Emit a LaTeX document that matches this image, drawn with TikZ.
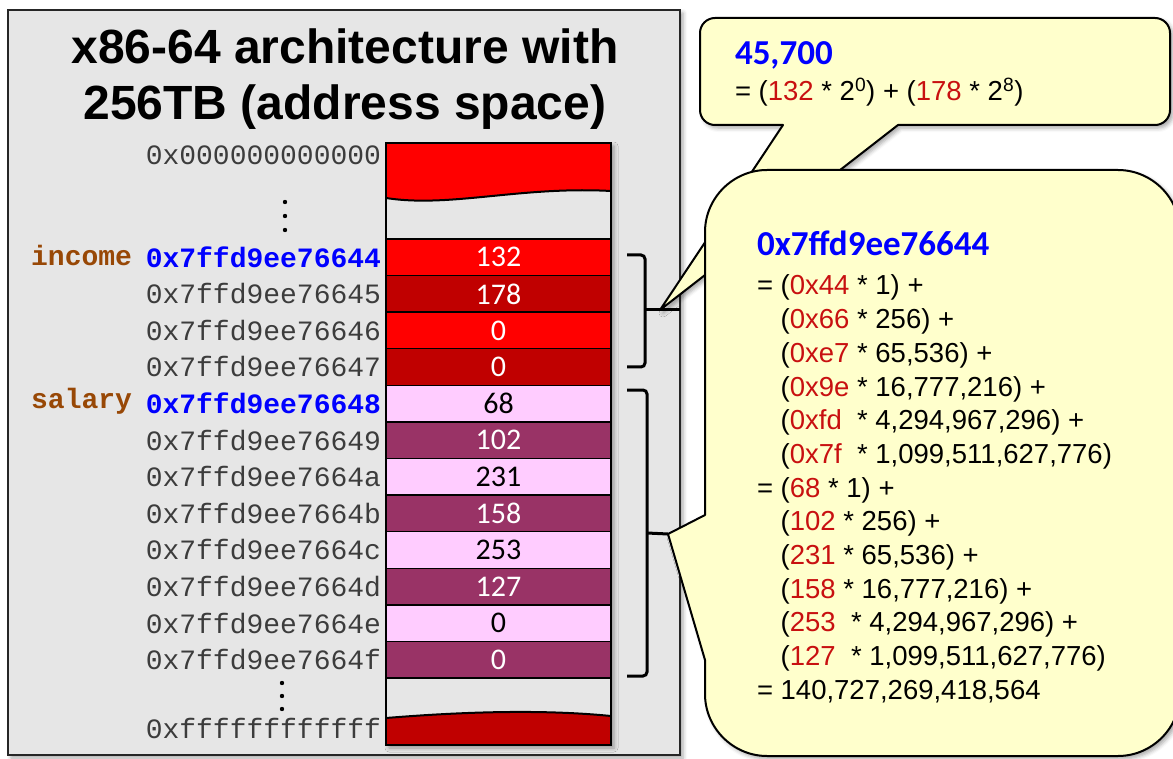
\documentclass[tikz,border=0pt]{standalone}
\usepackage{fontspec}
\setmainfont{Liberation Sans}
\setmonofont{Liberation Mono}
\newfontfamily\calfont{Carlito}
\usetikzlibrary{shadows.blur}

\definecolor{panelgray}{RGB}{230,230,230}
\definecolor{hotred}{RGB}{255,0,0}
\definecolor{darkred}{RGB}{192,0,0}
\definecolor{lightpink}{RGB}{255,204,255}
\definecolor{plum}{RGB}{153,51,102}
\definecolor{notebg}{RGB}{255,255,204}
\definecolor{varbrown}{RGB}{152,72,6}
\definecolor{numred}{RGB}{200,16,16}
\definecolor{addrblue}{RGB}{0,0,255}
\definecolor{addrgray}{RGB}{60,60,60}

\newcommand{\nr}[1]{\textcolor{numred}{#1}}
\newcommand{\ind}{\phantom{= }}

\begin{document}
\begin{tikzpicture}[x=1pt,y=-1pt,
  every node/.style={inner sep=0pt, outer sep=0pt},
  softshadow/.style={blur shadow={shadow xshift=3pt, shadow yshift=-3pt,
      shadow blur radius=4pt, shadow opacity=35}},
  panelbox/.style={fill=panelgray, draw=black!85, line width=2pt, softshadow},
  cellline/.style={draw=black, line width=1.5pt},
  cell/.style={cellline, minimum width=225pt, minimum height=36.58pt,
      font=\calfont\fontsize{30}{30}\selectfont},
  waveline/.style={draw=black, line width=2pt},
  addr/.style={anchor=east, text=addrgray, font=\ttfamily\fontsize{28}{28}\selectfont},
  addrkey/.style={anchor=east, text=addrblue, font=\ttfamily\bfseries\fontsize{28}{28}\selectfont},
  varname/.style={anchor=east, text=varbrown, font=\ttfamily\bfseries\fontsize{28}{28}\selectfont},
  vdot/.style={fill=black},
  brace/.style={draw=black, line width=3pt, rounded corners=4pt},
  tick/.style={draw=black, line width=3pt},
  note/.style={fill=notebg, draw=black, line width=2pt, line join=round, softshadow},
  notehead/.style={anchor=base west, text=addrblue, font=\calfont\bfseries\fontsize{35}{35}\selectfont},
  noteline/.style={anchor=base west, font=\fontsize{27.5}{33}\selectfont},
  title/.style={anchor=base, font=\bfseries\fontsize{48}{48}\selectfont}
]
\useasboundingbox (0,0) rectangle (1173,759);

% ---- address-space panel ----
\path[panelbox] (8,10) rectangle (680,755);
\node[title] (t1) at (345,64) {x86-64 architecture with};
\node[title] (t2) at (345,120) {256TB (address space)};

% ---- memory column ----
\path[softshadow, fill=panelgray] (386,143) rectangle (611,745);
% top of the address space
\path[fill=panelgray] (386,143) rectangle (611,239);
\fill[hotred] (386,143) -- (611,143) -- (611,191)
   .. controls (520,186) and (450,208) .. (386,198) -- cycle;
\draw[waveline] (386,198) .. controls (450,208) and (520,186) .. (611,191);
\draw[cellline] (386,143) rectangle (611,239);

% bytes of income and salary
\node[cell, fill=hotred,    text=white] (c1)  at (498.5,257.3) {132};
\node[cell, fill=darkred,   text=white] (c2)  at (498.5,293.9) {178};
\node[cell, fill=hotred,    text=white] (c3)  at (498.5,330.4) {0};
\node[cell, fill=darkred,   text=white] (c4)  at (498.5,367.0) {0};
\node[cell, fill=lightpink, text=black] (c5)  at (498.5,403.6) {68};
\node[cell, fill=plum,      text=white] (c6)  at (498.5,440.2) {102};
\node[cell, fill=lightpink, text=black] (c7)  at (498.5,476.8) {231};
\node[cell, fill=plum,      text=white] (c8)  at (498.5,513.4) {158};
\node[cell, fill=lightpink, text=black] (c9)  at (498.5,550.0) {253};
\node[cell, fill=plum,      text=white] (c10) at (498.5,586.6) {127};
\node[cell, fill=lightpink, text=black] (c11) at (498.5,623.1) {0};
\node[cell, fill=plum,      text=white] (c12) at (498.5,659.7) {0};

% end of the address space
\path[fill=panelgray] (386,678) rectangle (611,745);
\fill[darkred] (386,718) .. controls (460,712) and (540,709) .. (611,716)
   -- (611,745) -- (386,745) -- cycle;
\draw[waveline] (386,718) .. controls (460,712) and (540,709) .. (611,716);
\draw[cellline] (386,678) rectangle (611,745);

% ---- addresses ----
\node[addr] (a0) at (381,155) {0x000000000000};
\node[addrkey] (a1) at (381,257.3) {0x7ffd9ee76644};
\node[addr] (a2)  at (381,293.9) {0x7ffd9ee76645};
\node[addr] (a3)  at (381,330.4) {0x7ffd9ee76646};
\node[addr] (a4)  at (381,367.0) {0x7ffd9ee76647};
\node[addrkey] (a5) at (381,403.6) {0x7ffd9ee76648};
\node[addr] (a6)  at (381,440.2) {0x7ffd9ee76649};
\node[addr] (a7)  at (381,476.8) {0x7ffd9ee7664a};
\node[addr] (a8)  at (381,513.4) {0x7ffd9ee7664b};
\node[addr] (a9)  at (381,550.0) {0x7ffd9ee7664c};
\node[addr] (a10) at (381,586.6) {0x7ffd9ee7664d};
\node[addr] (a11) at (381,623.1) {0x7ffd9ee7664e};
\node[addr] (a12) at (381,659.7) {0x7ffd9ee7664f};
\node[addr] (a13) at (381,728) {0xffffffffffff};

\node[varname] (vin) at (132,255) {income};
\node[varname] (vsa) at (132,401) {salary};

% elided ranges
\foreach \yy in {202,216,230} \fill[vdot] (285,\yy) circle (2.2pt);
\foreach \yy in {683,696,709} \fill[vdot] (282,\yy) circle (2.2pt);

% ---- call-outs ----
\coordinate (tip1) at (660,310);
\coordinate (tip2) at (668,534);

\path[note] (715,18) -- (1155,18) .. controls (1163.3,18) and (1170,24.7) .. (1170,33)
   -- (1170,110) .. controls (1170,118.3) and (1163.3,125) .. (1155,125)
   -- (898,125) -- (tip1) -- (783,125)
   -- (715,125) .. controls (706.7,125) and (700,118.3) .. (700,110)
   -- (700,33) .. controls (700,24.7) and (706.7,18) .. (715,18) -- cycle;

\node[notehead] (h1) at (735,65) {45,700};
\node[noteline] (s1) at (735,101)
  {= (\nr{132} * 2\textsuperscript{0}) + (\nr{178} * 2\textsuperscript{8})};

\path[note] (705,515) -- (705,232) .. controls (705,198) and (733,170) .. (767,170)
   -- (1118,170) .. controls (1152,170) and (1180,198) .. (1180,232)
   -- (1180,694) .. controls (1180,728) and (1152,756) .. (1118,756)
   -- (767,756) .. controls (733,756) and (705,728) .. (705,694)
   -- (705,660) -- (tip2) -- cycle;

\node[notehead] (h2) at (757,256) {0x7ffd9ee76644};
\node[noteline] (l1)  at (757,295) {= (\nr{0x44} * 1) +};
\node[noteline] (l2)  at (757,328.7) {\ind(\nr{0x66} * 256) +};
\node[noteline] (l3)  at (757,362.3) {\ind(\nr{0xe7} * 65,536) +};
\node[noteline] (l4)  at (757,396.0) {\ind(\nr{0x9e} * 16,777,216) +};
\node[noteline] (l5)  at (757,429.7) {\ind(\nr{0xfd}\ \ * 4,294,967,296) +};
\node[noteline] (l6)  at (757,463.3) {\ind(\nr{0x7f}\ \ * 1,099,511,627,776)};
\node[noteline] (l7)  at (757,497.0) {= (\nr{68} * 1) +};
\node[noteline] (l8)  at (757,530.7) {\ind(\nr{102} * 256) +};
\node[noteline] (l9)  at (757,564.3) {\ind(\nr{231} * 65,536) +};
\node[noteline] (l10) at (757,598.0) {\ind(\nr{158} * 16,777,216) +};
\node[noteline] (l11) at (757,631.7) {\ind(\nr{253}\ \ * 4,294,967,296) +};
\node[noteline] (l12) at (757,665.3) {\ind(\nr{127}\ \ * 1,099,511,627,776)};
\node[noteline] (l13) at (757,699.0) {= 140,727,269,418,564};

% ---- brackets grouping the bytes of each variable ----
\coordinate (b1) at (645,310);
\coordinate (b2) at (647,533);
\draw[brace] (627,255) -- (645,255) -- (645,367) -- (627,367);
\draw[brace] (627,390) -- (647,390) -- (647,676) -- (627,676);
\draw[tick] (b1) -- (680,310);
\draw[tick] (b2) -- (tip2);
\end{tikzpicture}
\end{document}
